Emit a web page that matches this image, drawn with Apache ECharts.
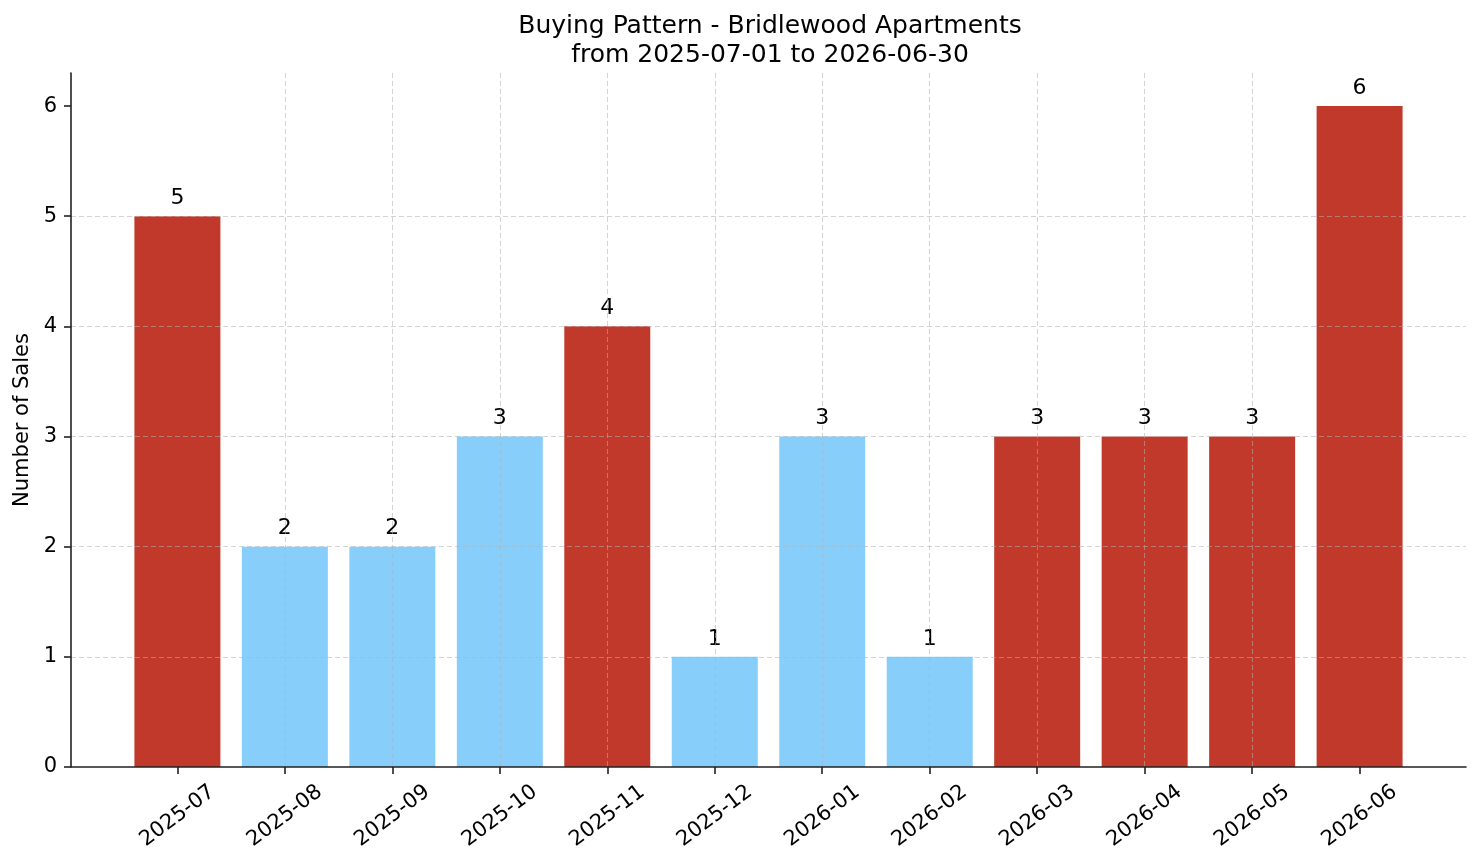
<!DOCTYPE html>
<html>
<head>
<meta charset="utf-8">
<script src="https://cdn.jsdelivr.net/npm/echarts@6/dist/echarts.min.js"></script>
<style>
  html, body { margin: 0; padding: 0; background: #fff; }
  #chart { width: 1481px; height: 863px; }
</style>
</head>
<body>
<div id="chart"></div>
<script>
const months = ['2025-07', '2025-08', '2025-09', '2025-10', '2025-11', '2025-12',
  '2026-01', '2026-02', '2026-03', '2026-04', '2026-05', '2026-06']
const sales = [5, 2, 2, 3, 4, 1, 3, 1, 3, 3, 3, 6]
// which months are drawn in red
const highlighted = [true, false, false, false, true, false, false, false, true, true, true, true]
const yTicks = [0, 1, 2, 3, 4, 5, 6]

const RED = '#C0392B'
const BLUE = '#87CEFA'
const FONT = 'DejaVu Sans'
const INK = '#000'

const chart = echarts.init(document.getElementById('chart'))

const positions = months.map((m, i) => i)
const gridLine = { show: true, showMinLine: false, showMaxLine: false, lineStyle: { color: '#b0b0b0', opacity: 0.55, width: 1, type: [5, 3] } }

const option = {
  backgroundColor: '#fff',
  animation: false,
  title: {
    text: 'Buying Pattern - Bridlewood Apartments\nfrom 2025-07-01 to 2026-06-30',
    left: 765,
    top: 7,
    textAlign: 'center',
    textStyle: { fontFamily: FONT, fontSize: 25, fontWeight: 'normal', color: INK, lineHeight: 29 },
  },
  grid: { left: 71, right: 15, top: 73, bottom: 96 },
  xAxis: {
    type: 'value',
    min: -0.99,
    max: 11.99,
    z: 3,
    axisLine: { show: true, onZero: false, lineStyle: { color: '#222', width: 1.6 } },
    axisTick: { show: true, length: 7, customValues: positions, lineStyle: { color: '#222', width: 1.6 } },
    axisLabel: {
      customValues: positions,
      formatter: v => months[Math.round(v)] || '',
      rotate: 37,
      align: 'center',
      verticalAlign: 'middle',
      margin: 49,
      fontFamily: FONT,
      fontSize: 21,
      color: INK,
      hideOverlap: false,
    },
    splitLine: gridLine,
  },
  yAxis: {
    type: 'value',
    min: 0,
    max: 6.3,
    z: 3,
    name: 'Number of Sales',
    nameLocation: 'middle',
    nameGap: 38,
    nameTextStyle: { fontFamily: FONT, fontSize: 21, color: INK },
    axisLine: { show: true, onZero: false, lineStyle: { color: '#222', width: 1.6 } },
    axisTick: { show: true, length: 7, customValues: yTicks, lineStyle: { color: '#222', width: 1.6 } },
    axisLabel: { customValues: yTicks, margin: 14, fontFamily: FONT, fontSize: 21, color: INK },
    splitLine: gridLine,
  },
  series: [
    {
      type: 'bar',
      barWidth: '80%',
      data: sales.map((v, i) => ({
        value: [i, v],
        itemStyle: { color: highlighted[i] ? RED : BLUE },
      })),
      label: {
        show: true,
        position: 'top',
        distance: 7,
        formatter: p => p.value[1],
        fontFamily: FONT,
        fontSize: 22,
        color: INK,
      },
    },
  ],
}

chart.setOption(option)
</script>
</body>
</html>
